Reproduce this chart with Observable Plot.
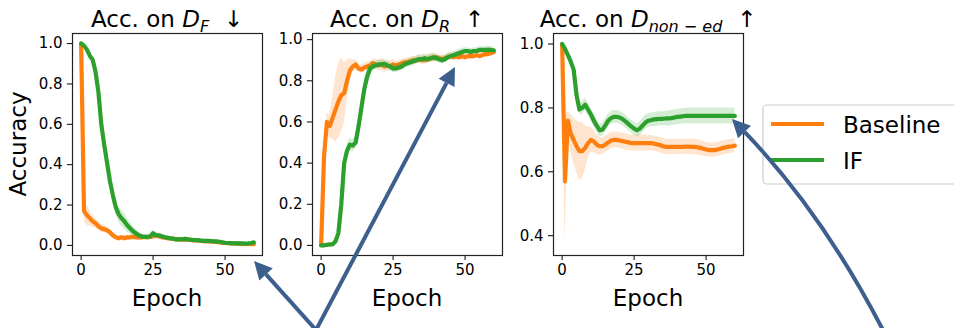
<!DOCTYPE html>
<html><head><meta charset="utf-8">
<script src="https://cdn.jsdelivr.net/npm/d3@7"></script>
<script src="https://cdn.jsdelivr.net/npm/@observablehq/plot@0.6"></script>
<style>
body{margin:0;background:#fff;}
#fig{position:relative;width:954px;height:328px;overflow:hidden;background:#fff;}
#fig .panel{position:absolute;top:0;}
#overlay{position:absolute;left:0;top:0;pointer-events:none;}
</style></head><body><div id="fig"></div>
<script>
// ---------- data ----------
const epochs = d3.range(0, 61);
const seriesNames = ["Baseline", "IF"];
const seriesColors = ["#ff7f0e", "#2ca02c"];
const xTicks = [0, 25, 50];

// Panel 1: Acc. on D_F
const dfBaseline = [
  1.00,0.17,0.15,0.135,0.12,0.11,0.095,0.085,0.08,0.075,
  0.065,0.05,0.04,0.035,0.04,0.035,0.04,0.04,0.042,0.04,
  0.04,0.04,0.042,0.04,0.042,0.045,0.05,0.045,0.04,0.04,
  0.035,0.035,0.033,0.03,0.03,0.028,0.03,0.028,0.027,0.025,
  0.025,0.023,0.022,0.02,0.02,0.02,0.018,0.017,0.015,0.014,
  0.012,0.011,0.01,0.01,0.009,0.008,0.008,0.007,0.007,0.006,
  0.006];
const dfBaselineSpread = [
  0.0,0.05,0.05,0.04,0.03,0.025,0.02,0.02,0.02,0.015,
  0.015,0.012,0.01,0.01,0.01,0.01,0.01,0.01,0.01,0.01,
  0.01,0.01,0.01,0.01,0.01,0.012,0.012,0.01,0.01,0.01,
  0.01,0.01,0.01,0.01,0.01,0.01,0.01,0.01,0.01,0.01,
  0.008,0.008,0.008,0.008,0.008,0.008,0.008,0.008,0.008,0.008,
  0.006,0.006,0.006,0.006,0.006,0.006,0.006,0.006,0.006,0.006,
  0.006];
const dfIF = [
  1.00,0.99,0.97,0.94,0.92,0.86,0.76,0.60,0.50,0.41,
  0.32,0.25,0.19,0.155,0.135,0.12,0.10,0.085,0.07,0.06,
  0.05,0.045,0.042,0.042,0.045,0.06,0.05,0.05,0.045,0.04,
  0.038,0.035,0.033,0.03,0.03,0.03,0.032,0.03,0.028,0.026,
  0.026,0.025,0.022,0.022,0.022,0.021,0.02,0.02,0.018,0.015,
  0.013,0.012,0.011,0.01,0.01,0.01,0.01,0.009,0.01,0.012,
  0.015];
const dfIFSpread = [
  0.005,0.005,0.01,0.01,0.01,0.01,0.015,0.02,0.02,0.02,
  0.02,0.025,0.03,0.035,0.04,0.04,0.035,0.03,0.025,0.02,
  0.015,0.012,0.01,0.01,0.012,0.015,0.012,0.01,0.01,0.01,
  0.01,0.01,0.01,0.01,0.01,0.01,0.01,0.01,0.01,0.01,
  0.01,0.01,0.01,0.01,0.01,0.01,0.008,0.008,0.008,0.008,
  0.006,0.006,0.006,0.006,0.006,0.006,0.006,0.006,0.006,0.006,
  0.006];

// Panel 2: Acc. on D_R
const drBaseline = [
  0.0,0.43,0.60,0.58,0.62,0.66,0.70,0.73,0.74,0.80,
  0.85,0.87,0.88,0.86,0.855,0.865,0.87,0.875,0.885,0.88,
  0.875,0.88,0.87,0.875,0.87,0.88,0.875,0.88,0.885,0.89,
  0.89,0.895,0.90,0.90,0.905,0.90,0.90,0.905,0.91,0.91,
  0.915,0.91,0.905,0.91,0.915,0.92,0.915,0.92,0.915,0.92,
  0.915,0.92,0.92,0.92,0.925,0.92,0.925,0.93,0.93,0.935,
  0.94];
const drBaselineSpread = [
  0.0,0.03,0.04,0.06,0.10,0.16,0.18,0.18,0.15,0.10,
  0.06,0.03,0.025,0.02,0.02,0.02,0.02,0.02,0.02,0.025,
  0.025,0.03,0.03,0.025,0.025,0.025,0.02,0.02,0.02,0.02,
  0.02,0.02,0.02,0.02,0.02,0.02,0.02,0.02,0.02,0.02,
  0.018,0.018,0.018,0.018,0.018,0.018,0.018,0.018,0.018,0.018,
  0.015,0.015,0.015,0.015,0.015,0.015,0.015,0.015,0.015,0.015,
  0.015];
const drIF = [
  0.0,0.0,0.003,0.005,0.005,0.02,0.06,0.20,0.40,0.46,
  0.49,0.485,0.50,0.58,0.67,0.76,0.82,0.86,0.87,0.875,
  0.88,0.88,0.883,0.875,0.87,0.86,0.86,0.865,0.87,0.88,
  0.885,0.89,0.895,0.90,0.905,0.905,0.91,0.905,0.91,0.915,
  0.91,0.905,0.90,0.905,0.915,0.92,0.925,0.93,0.935,0.94,
  0.945,0.945,0.94,0.945,0.945,0.95,0.95,0.95,0.952,0.95,
  0.948];
const drIFSpread = [
  0.0,0.0,0.0,0.0,0.005,0.01,0.02,0.03,0.03,0.03,
  0.03,0.03,0.03,0.03,0.04,0.04,0.04,0.03,0.025,0.02,
  0.02,0.02,0.02,0.02,0.02,0.02,0.02,0.02,0.02,0.02,
  0.02,0.02,0.02,0.02,0.02,0.02,0.02,0.02,0.02,0.02,
  0.018,0.018,0.018,0.018,0.018,0.018,0.018,0.018,0.018,0.018,
  0.016,0.016,0.016,0.016,0.016,0.016,0.016,0.016,0.016,0.016,
  0.016];

// Panel 3: Acc. on D_non-ed
const dnBaseline = [
  1.00,0.57,0.76,0.72,0.70,0.68,0.665,0.665,0.675,0.69,
  0.70,0.695,0.685,0.68,0.68,0.685,0.692,0.698,0.70,0.70,
  0.698,0.696,0.694,0.692,0.69,0.69,0.69,0.69,0.69,0.69,
  0.69,0.69,0.688,0.686,0.684,0.68,0.678,0.678,0.678,0.678,
  0.678,0.678,0.678,0.679,0.679,0.678,0.678,0.677,0.675,0.672,
  0.67,0.668,0.668,0.668,0.67,0.672,0.675,0.677,0.679,0.68,
  0.682];
const dnBaselineSpread = [
  0.0,0.20,0.03,0.06,0.07,0.08,0.09,0.09,0.07,0.05,
  0.04,0.035,0.03,0.028,0.026,0.025,0.025,0.025,0.025,0.025,
  0.025,0.025,0.025,0.025,0.025,0.025,0.025,0.025,0.025,0.025,
  0.024,0.024,0.024,0.024,0.024,0.024,0.024,0.024,0.024,0.024,
  0.024,0.024,0.024,0.024,0.024,0.024,0.024,0.024,0.024,0.024,
  0.022,0.022,0.022,0.022,0.022,0.022,0.022,0.022,0.022,0.022,
  0.022];
const dnIF = [
  1.00,0.985,0.965,0.945,0.92,0.84,0.795,0.80,0.81,0.795,
  0.78,0.76,0.745,0.73,0.732,0.745,0.76,0.768,0.772,0.772,
  0.77,0.765,0.758,0.75,0.742,0.735,0.73,0.735,0.745,0.755,
  0.76,0.762,0.764,0.765,0.766,0.766,0.767,0.767,0.768,0.77,
  0.772,0.773,0.774,0.775,0.775,0.775,0.775,0.775,0.775,0.775,
  0.775,0.775,0.775,0.775,0.775,0.775,0.775,0.775,0.775,0.775,
  0.775];
const dnIFSpread = [
  0.0,0.005,0.005,0.005,0.005,0.01,0.015,0.02,0.02,0.02,
  0.02,0.02,0.02,0.02,0.02,0.02,0.02,0.02,0.02,0.02,
  0.02,0.02,0.02,0.02,0.02,0.02,0.02,0.022,0.022,0.022,
  0.022,0.022,0.022,0.022,0.022,0.022,0.022,0.024,0.024,0.024,
  0.024,0.024,0.024,0.024,0.025,0.025,0.025,0.025,0.025,0.025,
  0.025,0.025,0.025,0.025,0.025,0.025,0.025,0.025,0.025,0.025,
  0.025];

const yTicksFull = [0, 0.2, 0.4, 0.6, 0.8, 1.0];
const yTicksNon = [0.4, 0.6, 0.8, 1.0];

// ---------- layout ----------
const FRAME_W = 190, M_TOP = 33, M_BOTTOM = 73, H = 328, M_RIGHT = 6;
const fig = document.getElementById("fig");

function toRows(mean, spread) {
  return epochs.map((e, i) => ({epoch: e, mean: mean[i], lo: mean[i] - spread[i], hi: mean[i] + spread[i]}));
}

function panel({series, yDomain, yTicks, left, marginLeft}) {
  const marks = [];
  series.forEach(([mean, spread], k) => {
    const rows = toRows(mean, spread);
    marks.push(Plot.areaY(rows, {x: "epoch", y1: "lo", y2: "hi", fill: seriesColors[k], fillOpacity: 0.2}));
    marks.push(Plot.lineY(rows, {x: "epoch", y: "mean", stroke: seriesColors[k], strokeWidth: 4.2}));
  });
  marks.push(Plot.axisX({ticks: xTicks, tickSize: 5, tickPadding: 4, fontSize: 15, label: null}));
  marks.push(Plot.axisY({ticks: yTicks, tickFormat: d3.format(".1f"), tickSize: 5, tickPadding: 5, fontSize: 15, label: null}));
  marks.push(Plot.frame({stroke: "#222", strokeWidth: 1.2}));
  const p = Plot.plot({
    width: marginLeft + FRAME_W + M_RIGHT, height: H,
    marginLeft, marginRight: M_RIGHT, marginTop: M_TOP, marginBottom: M_BOTTOM,
    style: {fontFamily: "DejaVu Sans", fontSize: "15px", color: "#000", background: "transparent", overflow: "visible"},
    x: {domain: [-3, 63]},
    y: {domain: yDomain},
    marks
  });
  p.classList.add("panel");
  p.style.left = left + "px";
  fig.appendChild(p);
}

panel({series: [[dfBaseline, dfBaselineSpread], [dfIF, dfIFSpread]], yDomain: [-0.05, 1.05], yTicks: yTicksFull, left: 0, marginLeft: 72});
panel({series: [[drBaseline, drBaselineSpread], [drIF, drIFSpread]], yDomain: [-0.049, 1.03], yTicks: yTicksFull, left: 262, marginLeft: 50});
panel({series: [[dnBaseline, dnBaselineSpread], [dnIF, dnIFSpread]], yDomain: [0.338, 1.033], yTicks: yTicksNon, left: 503, marginLeft: 50});

// ---------- overlay: titles, labels, legend, arrows ----------
const svg = d3.select(fig).append("svg").attr("id", "overlay")
  .attr("width", 954).attr("height", 328)
  .attr("font-family", "DejaVu Sans").style("white-space", "pre");

const titles = [
  {cx: 167, sub: "F", arrow: "\u2193"},
  {cx: 407, sub: "R", arrow: "\u2191"},
  {cx: 648, sub: "non \u2212 ed", arrow: "\u2191"}
];
titles.forEach(t => {
  const tx = svg.append("text").attr("x", t.cx).attr("y", 27).attr("text-anchor", "middle")
    .attr("font-size", 23).attr("fill", "#000");
  tx.append("tspan").text("Acc. on ");
  tx.append("tspan").attr("font-style", "italic").text("D");
  tx.append("tspan").attr("font-style", "italic").attr("font-size", 16).attr("dy", 5).text(t.sub);
  tx.append("tspan").attr("dy", -5).text("\u00a0\u00a0" + t.arrow);
  svg.append("text").attr("x", t.cx).attr("y", 306).attr("text-anchor", "middle")
    .attr("font-size", 23).attr("fill", "#000").text("Epoch");
});
svg.append("text").attr("transform", "translate(26,144) rotate(-90)").attr("text-anchor", "middle")
  .attr("font-size", 23).attr("fill", "#000").text("Accuracy");

// legend
svg.append("rect").attr("x", 763).attr("y", 105).attr("width", 220).attr("height", 79).attr("rx", 4)
  .attr("fill", "#fff").attr("fill-opacity", 0.8).attr("stroke", "#ccc").attr("stroke-width", 1.2);
seriesNames.forEach((name, k) => {
  const y = 124 + k * 36;
  svg.append("line").attr("x1", 771).attr("x2", 824).attr("y1", y).attr("y2", y)
    .attr("stroke", seriesColors[k]).attr("stroke-width", 4.2);
  svg.append("text").attr("x", 843).attr("y", y + 9).attr("font-size", 23).attr("fill", "#000").text(name);
});

// arrows
const arrowColor = "#3d5f8e";
function drawArrow(tail, ctrl, tip) {
  const from = ctrl || tail;
  const dx = tip[0] - from[0], dy = tip[1] - from[1];
  const len = Math.hypot(dx, dy), ux = dx / len, uy = dy / len;
  const L = 18, W = 9;
  const bx = tip[0] - ux * L, by = tip[1] - uy * L;
  const d = ctrl ? `M${tail}Q${ctrl} ${bx},${by}` : `M${tail}L${bx},${by}`;
  svg.append("path").attr("d", d).attr("fill", "none").attr("stroke", arrowColor).attr("stroke-width", 4);
  svg.append("path")
    .attr("d", `M${tip}L${bx - uy * W},${by + ux * W}L${bx + uy * W},${by - ux * W}Z`)
    .attr("fill", arrowColor);
}
drawArrow([316, 330], null, [254, 261]);
drawArrow([316, 330], null, [455, 67]);
drawArrow([884, 332], [822, 212], [732, 119]);
</script></body></html>
